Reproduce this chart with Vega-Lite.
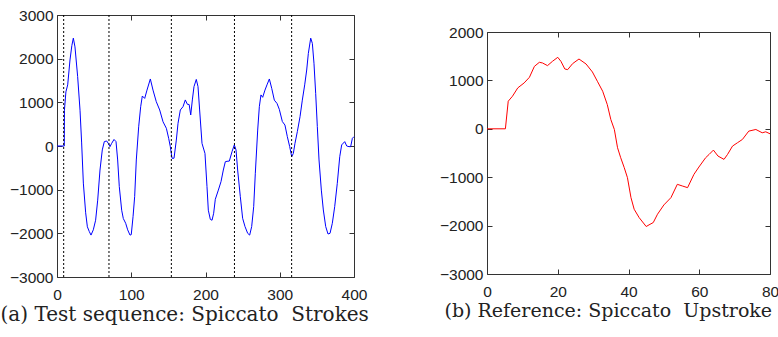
{
  "$schema": "https://vega.github.io/schema/vega-lite/v6.json",
  "padding": {"left": -1, "top": 7, "right": 0, "bottom": 0},
  "background": "white",
  "datasets": {
    "test": [
      {"t": 0, "v": 0}, {"t": 9.8, "v": 0}, {"t": 10, "v": 820}, {"t": 12, "v": 1240}, {"t": 14.4, "v": 1400},
      {"t": 17.5, "v": 1970}, {"t": 20, "v": 2300}, {"t": 22, "v": 2470}, {"t": 24.2, "v": 2270}, {"t": 27.8, "v": 1590},
      {"t": 31, "v": 820}, {"t": 33.2, "v": 70}, {"t": 35.5, "v": -850}, {"t": 38.6, "v": -1530}, {"t": 40.9, "v": -1850},
      {"t": 43.5, "v": -1960}, {"t": 45.8, "v": -2040}, {"t": 48.9, "v": -1920}, {"t": 52, "v": -1700}, {"t": 54.8, "v": -1240},
      {"t": 57.9, "v": -550}, {"t": 61, "v": -90}, {"t": 63.7, "v": 100}, {"t": 66.9, "v": 115}, {"t": 69.1, "v": 60},
      {"t": 71.4, "v": -15}, {"t": 73.6, "v": 60}, {"t": 76.8, "v": 150}, {"t": 79.5, "v": 100}, {"t": 81.7, "v": -320},
      {"t": 83.9, "v": -930}, {"t": 87.1, "v": -1470}, {"t": 89.3, "v": -1660}, {"t": 92.5, "v": -1770}, {"t": 95.2, "v": -1920},
      {"t": 98.3, "v": -2040}, {"t": 100, "v": -2030}, {"t": 102.4, "v": -1620}, {"t": 104.6, "v": -1160}, {"t": 106.8, "v": -320},
      {"t": 110, "v": 440}, {"t": 112.7, "v": 900}, {"t": 114.9, "v": 1145}, {"t": 118.1, "v": 1090}, {"t": 121.2, "v": 1280},
      {"t": 125.7, "v": 1535}, {"t": 129.3, "v": 1280}, {"t": 133.7, "v": 1015}, {"t": 138.3, "v": 825}, {"t": 142.8, "v": 555},
      {"t": 147.3, "v": 405}, {"t": 150.4, "v": 175}, {"t": 152.6, "v": -15}, {"t": 154.9, "v": -280}, {"t": 157.6, "v": -280},
      {"t": 160.7, "v": 135}, {"t": 163, "v": 520}, {"t": 166.1, "v": 825}, {"t": 169.7, "v": 900}, {"t": 172.8, "v": 1055},
      {"t": 175.6, "v": 955}, {"t": 178, "v": 950}, {"t": 180.1, "v": 710}, {"t": 182.3, "v": 1055}, {"t": 184.5, "v": 1360},
      {"t": 187.6, "v": 1525}, {"t": 189.9, "v": 1360}, {"t": 192.1, "v": 825}, {"t": 195.3, "v": 60}, {"t": 199.3, "v": -170},
      {"t": 202, "v": -930}, {"t": 203.8, "v": -1470}, {"t": 206.5, "v": -1680}, {"t": 208.8, "v": -1700}, {"t": 211, "v": -1540},
      {"t": 213.2, "v": -1220}, {"t": 217.3, "v": -1010}, {"t": 220.9, "v": -815}, {"t": 224, "v": -550}, {"t": 226.7, "v": -360},
      {"t": 229, "v": -350}, {"t": 232.1, "v": -345}, {"t": 235.7, "v": -130}, {"t": 238.8, "v": 25}, {"t": 241.1, "v": -90},
      {"t": 243.3, "v": -550}, {"t": 246.9, "v": -1160}, {"t": 250, "v": -1655}, {"t": 253.2, "v": -1845}, {"t": 256.8, "v": -2000},
      {"t": 259.5, "v": -2040}, {"t": 262.2, "v": -1845}, {"t": 264.9, "v": -1390}, {"t": 267.1, "v": -625}, {"t": 270.3, "v": 365},
      {"t": 272.5, "v": 900}, {"t": 274.7, "v": 1170}, {"t": 277, "v": 1115}, {"t": 280.1, "v": 1280}, {"t": 282.8, "v": 1400},
      {"t": 286, "v": 1535}, {"t": 289.2, "v": 1320}, {"t": 292.7, "v": 1050}, {"t": 296.3, "v": 975}, {"t": 299.4, "v": 840},
      {"t": 303.5, "v": 560}, {"t": 307, "v": 480}, {"t": 310.2, "v": 215}, {"t": 313.4, "v": -15}, {"t": 316.1, "v": -245},
      {"t": 318.3, "v": -170}, {"t": 320.5, "v": 60}, {"t": 323.7, "v": 330}, {"t": 327.3, "v": 670}, {"t": 330.4, "v": 1050},
      {"t": 333.6, "v": 1400}, {"t": 336.3, "v": 1740}, {"t": 338.5, "v": 2120}, {"t": 341.7, "v": 2470}, {"t": 343.9, "v": 2350},
      {"t": 346.1, "v": 1895}, {"t": 348.4, "v": 1205}, {"t": 350.6, "v": 445}, {"t": 352.9, "v": -320}, {"t": 356, "v": -1010},
      {"t": 358.7, "v": -1465}, {"t": 361.9, "v": -1845}, {"t": 365, "v": -2015}, {"t": 367.7, "v": -2000}, {"t": 370.8, "v": -1770},
      {"t": 374, "v": -1390}, {"t": 377.5, "v": -855}, {"t": 380.8, "v": -245}, {"t": 383.4, "v": 25}, {"t": 387.5, "v": 100},
      {"t": 390.2, "v": 0}, {"t": 393.3, "v": -15}, {"t": 395.5, "v": -15}, {"t": 397.8, "v": 175}, {"t": 400, "v": 215}
    ],
    "bounds": [{"t": 9}, {"t": 70}, {"t": 154}, {"t": 239}, {"t": 316}],
    "ref": [
      {"t": 0, "v": 0}, {"t": 5.2, "v": 0}, {"t": 6, "v": 570}, {"t": 7.2, "v": 673}, {"t": 8.7, "v": 845},
      {"t": 10.5, "v": 948}, {"t": 12, "v": 1065}, {"t": 13.4, "v": 1290}, {"t": 14.8, "v": 1374}, {"t": 15.7, "v": 1360},
      {"t": 17.1, "v": 1305}, {"t": 18.5, "v": 1394}, {"t": 20, "v": 1477}, {"t": 20.9, "v": 1394}, {"t": 22, "v": 1236},
      {"t": 22.8, "v": 1222}, {"t": 24.2, "v": 1346}, {"t": 26, "v": 1442}, {"t": 28, "v": 1339}, {"t": 29.8, "v": 1174},
      {"t": 31.2, "v": 982}, {"t": 32.7, "v": 776}, {"t": 34, "v": 501}, {"t": 35, "v": 192}, {"t": 36, "v": -14},
      {"t": 36.9, "v": -391}, {"t": 37.8, "v": -598}, {"t": 38.8, "v": -804}, {"t": 39.7, "v": -1010}, {"t": 40.7, "v": -1422},
      {"t": 41.6, "v": -1662}, {"t": 43, "v": -1834}, {"t": 45, "v": -2019}, {"t": 45.8, "v": -1985}, {"t": 47, "v": -1937},
      {"t": 48.2, "v": -1765}, {"t": 50, "v": -1573}, {"t": 52, "v": -1422}, {"t": 53.8, "v": -1147}, {"t": 55.2, "v": -1181},
      {"t": 56.7, "v": -1216}, {"t": 58.5, "v": -941}, {"t": 59.9, "v": -790}, {"t": 61.8, "v": -598}, {"t": 62.8, "v": -529},
      {"t": 64, "v": -440}, {"t": 65.3, "v": -563}, {"t": 67, "v": -632}, {"t": 68, "v": -529}, {"t": 69.4, "v": -357},
      {"t": 70.8, "v": -288}, {"t": 72.2, "v": -220}, {"t": 74, "v": -48}, {"t": 76, "v": -14}, {"t": 77.8, "v": -82},
      {"t": 78.8, "v": -62}, {"t": 80, "v": -103}
    ]
  },
  "config": {
    "view": {"stroke": "#333333", "strokeWidth": 1},
    "axis": {
      "domain": false, "grid": false, "tickSize": -5, "tickColor": "#333333", "tickWidth": 1,
      "labelFont": "Liberation Sans", "labelFontSize": 15.5, "labelColor": "#222222", "format": "d", "labelFlush": false, "labelOverlap": false,
      "titleFont": "DejaVu Serif", "titleFontWeight": "normal", "titleFontSize": 20, "titleColor": "#222222"
    },
    "axisX": {"labelPadding": 15, "titlePadding": 2, "titleAlign": "left", "titleAnchor": "start"},
    "axisY": {"labelPadding": 9}
  },
  "spacing": 69,
  "hconcat": [
    {
      "width": 297,
      "height": 262,
      "resolve": {"axis": {"x": "independent", "y": "independent"}},
      "layer": [
        {
          "data": {"name": "test"},
          "mark": {"type": "line", "color": "#0000ff", "strokeWidth": 1},
          "encoding": {
            "x": {"field": "t", "type": "quantitative", "scale": {"domain": [0, 400], "nice": false},
                  "axis": {"orient": "bottom", "values": [0, 100, 200, 300, 400], "title": "(a) Test sequence: Spiccato\u00a0\u00a0Strokes", "titleX": -57}},
            "y": {"field": "v", "type": "quantitative", "scale": {"domain": [-3000, 3000], "nice": false},
                  "axis": {"orient": "left", "values": [-3000, -2000, -1000, 0, 1000, 2000, 3000], "title": null}}
          }
        },
        {
          "data": {"name": "bounds"},
          "mark": {"type": "rule", "color": "#000000", "strokeDash": [2, 2], "strokeWidth": 1},
          "encoding": {
            "x": {"field": "t", "type": "quantitative",
                  "axis": {"orient": "top", "values": [0, 100, 200, 300, 400], "labels": false, "title": null}},
            "y": {"datum": -3000, "type": "quantitative",
                  "axis": {"orient": "right", "values": [-3000, -2000, -1000, 0, 1000, 2000, 3000], "labels": false, "title": null}},
            "y2": {"datum": 3000}
          }
        }
      ]
    },
    {
      "spacing": 0,
      "vconcat": [
        {
          "width": 10,
          "height": 9,
          "view": {"stroke": null},
          "data": {"values": [{}]},
          "mark": {"type": "point", "opacity": 0},
          "encoding": {}
        },
        {
          "width": 283,
          "height": 242,
          "data": {"name": "ref"},
          "resolve": {"axis": {"x": "independent", "y": "independent"}},
          "layer": [
            {
              "mark": {"type": "line", "color": "#ff0000", "strokeWidth": 1},
              "encoding": {
                "x": {"field": "t", "type": "quantitative", "scale": {"domain": [0, 80], "nice": false},
                      "axis": {"orient": "bottom", "values": [0, 20, 40, 60, 80], "title": "(b) Reference: Spiccato\u00a0\u00a0Upstroke", "titleX": -43, "titleFontSize": 19}},
                "y": {"field": "v", "type": "quantitative", "scale": {"domain": [-3000, 2000], "nice": false},
                      "axis": {"orient": "left", "values": [-3000, -2000, -1000, 0, 1000, 2000], "title": null}}
              }
            },
            {
              "mark": {"type": "line", "color": "#ff0000", "strokeOpacity": 0},
              "encoding": {
                "x": {"field": "t", "type": "quantitative",
                      "axis": {"orient": "top", "values": [0, 20, 40, 60, 80], "labels": false, "title": null}},
                "y": {"field": "v", "type": "quantitative",
                      "axis": {"orient": "right", "values": [-3000, -2000, -1000, 0, 1000, 2000], "labels": false, "title": null}}
              }
            }
          ]
        }
      ]
    }
  ]
}
